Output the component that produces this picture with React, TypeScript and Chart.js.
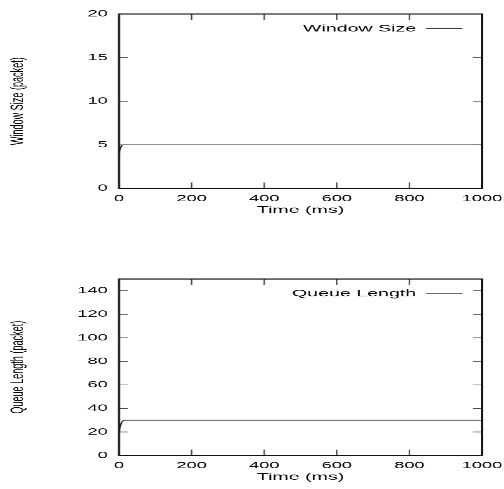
import React, { useEffect, useRef } from "react";
import { Chart, registerables } from "chart.js";

Chart.register(...registerables);

// ---- data ----
const timeTicks = [0, 200, 400, 600, 800, 1000];
const windowTime = [0, 2, 4, 6, 8, 10, 14, 20, 1000];
const windowSize = [3.9, 4.3, 4.6, 4.8, 4.92, 4.98, 5, 5, 5];
const queueTime = [0, 2, 4, 6, 8, 10, 12, 16, 20, 1000];
const queueLength = [19, 22.5, 25, 27, 28.4, 29.2, 29.7, 30, 30, 30];
const windowTicks = [0, 5, 10, 15, 20];
const queueTicks = [0, 20, 40, 60, 80, 100, 120, 140];
const windowMax = 20;
const queueMax = 150;

// ---- page geometry (text is stretched horizontally like the reference) ----
const SX = 1.4;
const SY = 0.7;
const FONT = "'Liberation Sans', Arial, Helvetica, sans-serif";
const XT = 8.5; // x tick length (logical)
const YT = 6.4; // y tick length (logical)

const framePlugin = {
  id: "frame",
  afterLayout(chart: any) {
    const l = chart.legend;
    if (l) {
      const w = l.width;
      const h = l.height;
      l.left = chart.chartArea.right - w;
      l.right = chart.chartArea.right;
      l.top = chart.chartArea.top;
      l.bottom = chart.chartArea.top + h;
    }
  },
  afterDatasetsDraw(chart: any) {
    const { ctx, chartArea: a, scales } = chart;
    const xs = scales.x;
    const ys = scales.y;
    ctx.save();
    ctx.strokeStyle = "#444";
    ctx.lineWidth = 1;
    ctx.beginPath();
    xs.ticks.forEach((t: any) => {
      const px = xs.getPixelForValue(t.value);
      ctx.moveTo(px, a.bottom);
      ctx.lineTo(px, a.bottom - XT);
      ctx.moveTo(px, a.top);
      ctx.lineTo(px, a.top + XT);
    });
    ys.ticks.forEach((t: any) => {
      const py = ys.getPixelForValue(t.value);
      ctx.moveTo(a.left, py);
      ctx.lineTo(a.left + YT, py);
      ctx.moveTo(a.right, py);
      ctx.lineTo(a.right - YT, py);
    });
    ctx.stroke();
    ctx.strokeStyle = "#111";
    ctx.lineWidth = 1.5;
    ctx.strokeRect(a.left, a.top, a.right - a.left, a.bottom - a.top);
    ctx.restore();
  },
};

type PanelProps = {
  pageTop: number;
  pageHeight: number;
  label: string;
  yTitle: string;
  xs: number[];
  ys: number[];
  yTicks: number[];
  yMax: number;
  chartTopPage: number;
  chartBottomPage: number;
};

function Panel(p: PanelProps) {
  const ref = useRef<HTMLCanvasElement>(null);
  const W = 504 / SX;
  const H = p.pageHeight / SY;
  const left = 119 / SX;
  const right = 482 / SX;
  const top = p.chartTopPage / SY;
  const bottom = p.chartBottomPage / SY;
  const xHeight = H - bottom;

  useEffect(() => {
    if (!ref.current) return;
    const yStep = p.yTicks[1] - p.yTicks[0];
    const chart = new Chart(ref.current, {
      type: "line",
      data: {
        datasets: [
          {
            label: p.label,
            data: p.xs.map((x, i) => ({ x, y: p.ys[i] })),
            borderColor: "#222",
            backgroundColor: "#222",
            borderWidth: 1,
            pointRadius: 0,
            tension: 0.3,
            fill: false,
          },
        ],
      },
      options: {
        animation: false,
        responsive: false,
        devicePixelRatio: 2,
        layout: { padding: { top, right: W - right, left: 0, bottom: 0 } },
        plugins: {
          tooltip: { enabled: false },
          legend: {
            position: "chartArea",
            align: "start",
            rtl: true,
            labels: {
              usePointStyle: true,
              pointStyle: "line",
              pointStyleWidth: 26,
              boxHeight: 14,
              padding: 14,
              color: "#000",
              font: { family: FONT, size: 14 },
            },
          },
        },
        scales: {
          x: {
            type: "linear",
            min: timeTicks[0],
            max: timeTicks[timeTicks.length - 1],
            grid: { display: false, drawTicks: false },
            border: { display: false },
            ticks: {
              stepSize: timeTicks[1] - timeTicks[0],
              includeBounds: false,
              autoSkip: false,
              maxRotation: 0,
              padding: 7,
              color: "#000",
              font: { family: FONT, size: 13 },
              callback: (v: any) => String(v),
            },
            title: {
              display: true,
              text: "Time (ms)",
              color: "#000",
              font: { family: FONT, size: 14 },
              padding: { top: 0, bottom: xHeight - 31 - 8.4 },
            },
            afterFit: (s: any) => {
              s.height = xHeight;
              s.paddingLeft = 0;
              s.paddingRight = 0;
            },
          },
          y: {
            type: "linear",
            min: p.yTicks[0],
            max: p.yMax,
            grid: { display: false, drawTicks: false },
            border: { display: false },
            ticks: {
              stepSize: yStep,
              includeBounds: false,
              autoSkip: false,
              padding: 8,
              color: "#000",
              font: { family: FONT, size: 13 },
              callback: (v: any) => String(v),
            },
            title: {
              display: true,
              text: p.yTitle,
              color: "#000",
              font: { family: FONT, size: 13 },
              padding: { top: 5, bottom: 0 },
            },
            afterFit: (s: any) => {
              s.width = left;
              s.paddingTop = 0;
              s.paddingBottom = 0;
            },
          },
        },
      } as any,
      plugins: [framePlugin],
    });
    return () => chart.destroy();
  }, []);

  return (
    <div
      style={{
        position: "absolute",
        left: 0,
        top: p.pageTop,
        width: W,
        height: H,
        transform: `scale(${SX}, ${SY})`,
        transformOrigin: "0 0",
      }}
    >
      <canvas ref={ref} width={W} height={H} />
    </div>
  );
}

export default function App() {
  return (
    <div
      style={{
        position: "absolute",
        left: 0,
        top: 0,
        width: 504,
        height: 489,
        background: "#fff",
        overflow: "hidden",
      }}
    >
      <Panel
        pageTop={0}
        pageHeight={240}
        label="Window Size"
        yTitle="Window Size (packet)"
        xs={windowTime}
        ys={windowSize}
        yTicks={windowTicks}
        yMax={windowMax}
        chartTopPage={14}
        chartBottomPage={189}
      />
      <Panel
        pageTop={240}
        pageHeight={249}
        label="Queue Length"
        yTitle="Queue Length (packet)"
        xs={queueTime}
        ys={queueLength}
        yTicks={queueTicks}
        yMax={queueMax}
        chartTopPage={39}
        chartBottomPage={216}
      />
    </div>
  );
}
